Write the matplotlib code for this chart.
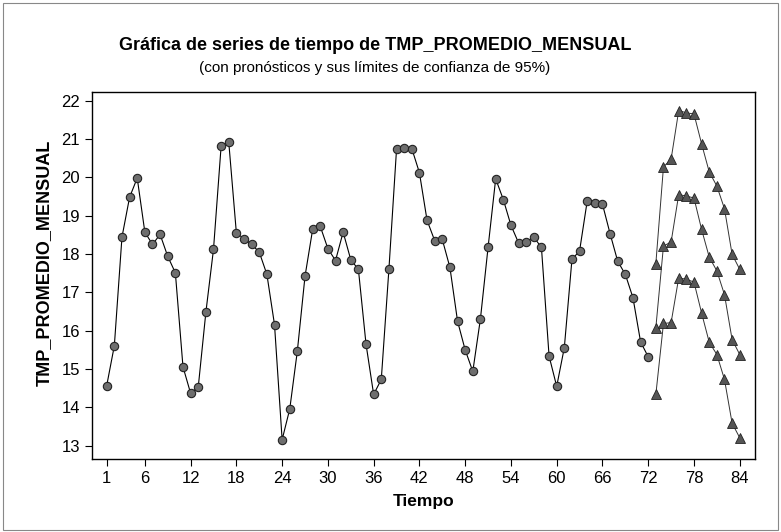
import numpy as np
import matplotlib.pyplot as plt

# observed monthly mean temperature, t = 1..72
tmp = [14.57, 15.61, 18.44, 19.48, 19.98, 18.57, 18.25, 18.51, 17.94, 17.51,
       15.06, 14.37, 14.53, 16.48, 18.12, 20.81, 20.92, 18.55, 18.40, 18.25,
       18.05, 17.47, 16.16, 13.16, 13.96, 15.48, 17.42, 18.64, 18.72, 18.14,
       17.83, 18.57, 17.85, 17.60, 15.65, 14.34, 14.73, 17.60, 20.73, 20.77,
       20.75, 20.12, 18.88, 18.35, 18.38, 17.65, 16.25, 15.50, 14.94, 16.31,
       18.17, 19.96, 19.42, 18.75, 18.29, 18.31, 18.44, 18.17, 15.34, 14.55,
       15.56, 17.86, 18.08, 19.38, 19.34, 19.30, 18.53, 17.81, 17.47, 16.86,
       15.71, 15.32]

# forecasts t = 73..84 and 95% limits
upper = [17.75, 20.27, 20.47, 21.74, 21.68, 21.65, 20.87, 20.14, 19.77, 19.18, 17.99, 17.60]
fcst = [16.08, 18.21, 18.31, 19.55, 19.51, 19.46, 18.64, 17.92, 17.56, 16.94, 15.77, 15.38]
lower = [14.34, 16.19, 16.21, 17.38, 17.34, 17.27, 16.46, 15.70, 15.38, 14.73, 13.59, 13.21]

xticks = [1, 6, 12, 18, 24, 30, 36, 42, 48, 54, 60, 66, 72, 78, 84]
yticks = list(range(13, 23))

plt.rcParams['font.family'] = ['Liberation Sans', 'DejaVu Sans']

t = np.arange(1, len(tmp) + 1)
tf = np.arange(len(tmp) + 1, len(tmp) + 1 + len(fcst))

fig = plt.figure(figsize=(7.81, 5.32), dpi=100)
ax = fig.add_axes([0.1174, 0.1367, 0.8493, 0.6909])

ax.plot(t, tmp, '-', color='black', lw=0.8, zorder=2)
ax.plot(t, tmp, 'o', ms=6, mfc='#6e6e6e', mec='#222222', mew=0.8, zorder=3)
for s in (upper, fcst, lower):
    ax.plot(tf, s, '-', color='#333333', lw=0.7, zorder=2)
    ax.plot(tf, s, '^', ms=6.5, mfc='#555555', mec='#222222', mew=0.6, zorder=3)

ax.set_xlim(-0.97, 86.0)
ax.set_ylim(12.65, 22.23)
ax.set_xticks(xticks)
ax.set_yticks(yticks)
ax.tick_params(direction='out', length=5, labelsize=12)
for sp in ax.spines.values():
    sp.set_linewidth(1.0)

ax.set_xlabel('Tiempo', fontsize=12.5, fontweight='bold', labelpad=6)
ax.set_ylabel('TMP_PROMEDIO_MENSUAL', fontsize=13, fontweight='bold')
ax.yaxis.set_label_coords(-0.058, 0.534)

fig.text(0.48, 0.906, 'Gráfica de series de tiempo de TMP_PROMEDIO_MENSUAL',
         ha='center', fontsize=13, fontweight='bold')
fig.text(0.48, 0.864, '(con pronósticos y sus límites de confianza de 95%)',
         ha='center', fontsize=11)

fig.patches.append(plt.Rectangle((0.004, 0.004), 0.992, 0.99, transform=fig.transFigure,
                                 fill=False, lw=0.8, ec='#888888'))

fig.savefig('out.png', dpi=100)
